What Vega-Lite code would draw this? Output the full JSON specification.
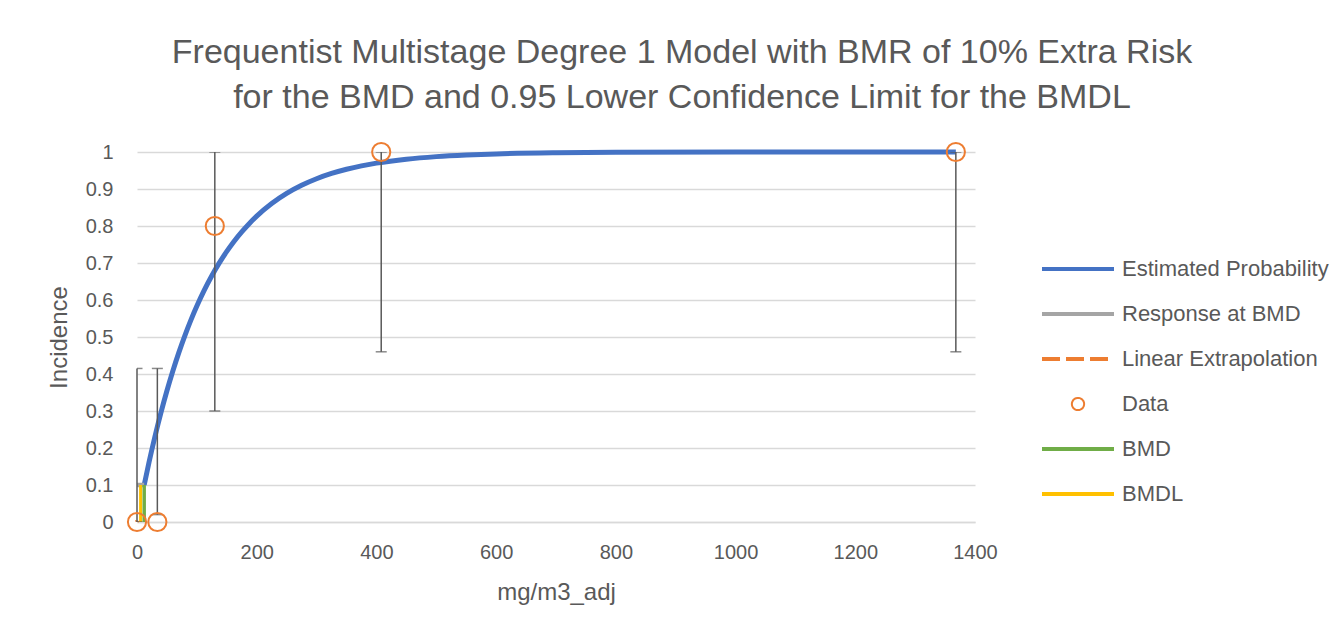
{
  "$schema": "https://vega.github.io/schema/vega-lite/v6.json",
  "width": 838,
  "height": 370,
  "autosize": {"type": "none"},
  "padding": {"left": 137, "top": 152, "right": 368, "bottom": 112},
  "background": "white",
  "config": {
    "font": "Liberation Sans",
    "view": {"stroke": null},
    "axis": {
      "labelColor": "#595959",
      "titleColor": "#595959",
      "labelFontSize": 20,
      "titleFontSize": 24,
      "titleFontWeight": "normal",
      "gridColor": "#d9d9d9",
      "gridWidth": 1.5,
      "ticks": false,
      "domain": false,
      "labelOverlap": false,
      "labelFlush": false
    }
  },
  "title": {
    "text": ["Frequentist Multistage Degree 1 Model with BMR of 10% Extra Risk", "for the BMD and 0.95 Lower Confidence Limit for the BMDL"],
    "fontSize": 34,
    "fontWeight": "normal",
    "color": "#595959",
    "anchor": "middle",
    "frame": "group",
    "dx": 126,
    "offset": 24,
    "lineHeight": 45
  },
  "datasets": {
    "lines": [
      {"series": "Estimated Probability", "x": 12, "y": 0.1},
      {"series": "Estimated Probability", "x": 20, "y": 0.1607},
      {"series": "Estimated Probability", "x": 30, "y": 0.2311},
      {"series": "Estimated Probability", "x": 40, "y": 0.2956},
      {"series": "Estimated Probability", "x": 50, "y": 0.3547},
      {"series": "Estimated Probability", "x": 60, "y": 0.4088},
      {"series": "Estimated Probability", "x": 70, "y": 0.4584},
      {"series": "Estimated Probability", "x": 80, "y": 0.5038},
      {"series": "Estimated Probability", "x": 90, "y": 0.5455},
      {"series": "Estimated Probability", "x": 100, "y": 0.5836},
      {"series": "Estimated Probability", "x": 112, "y": 0.6253},
      {"series": "Estimated Probability", "x": 125, "y": 0.6655},
      {"series": "Estimated Probability", "x": 137, "y": 0.6989},
      {"series": "Estimated Probability", "x": 150, "y": 0.7313},
      {"series": "Estimated Probability", "x": 162, "y": 0.7582},
      {"series": "Estimated Probability", "x": 175, "y": 0.7841},
      {"series": "Estimated Probability", "x": 187, "y": 0.8056},
      {"series": "Estimated Probability", "x": 200, "y": 0.8266},
      {"series": "Estimated Probability", "x": 225, "y": 0.8607},
      {"series": "Estimated Probability", "x": 250, "y": 0.8881},
      {"series": "Estimated Probability", "x": 275, "y": 0.9101},
      {"series": "Estimated Probability", "x": 300, "y": 0.9278},
      {"series": "Estimated Probability", "x": 325, "y": 0.9420},
      {"series": "Estimated Probability", "x": 350, "y": 0.9534},
      {"series": "Estimated Probability", "x": 375, "y": 0.9626},
      {"series": "Estimated Probability", "x": 400, "y": 0.9699},
      {"series": "Estimated Probability", "x": 450, "y": 0.9806},
      {"series": "Estimated Probability", "x": 500, "y": 0.9875},
      {"series": "Estimated Probability", "x": 550, "y": 0.9919},
      {"series": "Estimated Probability", "x": 600, "y": 0.9948},
      {"series": "Estimated Probability", "x": 700, "y": 0.9978},
      {"series": "Estimated Probability", "x": 800, "y": 0.9991},
      {"series": "Estimated Probability", "x": 1000, "y": 0.9998},
      {"series": "Estimated Probability", "x": 1200, "y": 1.0},
      {"series": "Estimated Probability", "x": 1368, "y": 1.0},
      {"series": "Response at BMD", "x": 0, "y": 0.1},
      {"series": "Response at BMD", "x": 12, "y": 0.1},
      {"series": "Linear Extrapolation", "x": 0, "y": 0},
      {"series": "Linear Extrapolation", "x": 0.5, "y": 0.004},
      {"series": "BMD", "x": 12, "y": 0},
      {"series": "BMD", "x": 12, "y": 0.1},
      {"series": "BMDL", "x": 6, "y": 0},
      {"series": "BMDL", "x": 6, "y": 0.1}
    ],
    "obs": [
      {"series": "Data", "dose": 0, "incidence": 0, "lo": 0, "hi": 0.415},
      {"series": "Data", "dose": 34, "incidence": 0, "lo": 0.02, "hi": 0.415},
      {"series": "Data", "dose": 130, "incidence": 0.8, "lo": 0.3, "hi": 1.0},
      {"series": "Data", "dose": 408, "incidence": 1.0, "lo": 0.46, "hi": 1.0},
      {"series": "Data", "dose": 1368, "incidence": 1.0, "lo": 0.46, "hi": 1.0}
    ]
  },
  "layer": [
    {
      "data": {"name": "lines"},
      "mark": {"type": "line", "strokeCap": "butt", "interpolate": "monotone"},
      "encoding": {
        "x": {"field": "x", "type": "quantitative", "scale": {"domain": [0, 1400], "nice": false}, "axis": {"values": [0, 200, 400, 600, 800, 1000, 1200, 1400], "format": "d", "grid": false, "title": "mg/m3_adj", "labelPadding": 20, "titlePadding": 18, "domain": true, "domainColor": "#d9d9d9", "domainWidth": 1.5}},
        "y": {"field": "y", "type": "quantitative", "scale": {"domain": [0, 1], "nice": false}, "axis": {"values": [0, 0.1, 0.2, 0.3, 0.4, 0.5, 0.6, 0.7, 0.8, 0.9, 1], "format": "~g", "title": "Incidence", "titlePadding": 14, "labelPadding": 24, "labelOverlap": false}},
        "detail": {"field": "series"},
        "color": {
          "field": "series",
          "type": "nominal",
          "scale": {
            "domain": ["Estimated Probability", "Response at BMD", "Linear Extrapolation", "Data", "BMD", "BMDL"],
            "range": ["#4472c4", "#a5a5a5", "#ed7d31", "#ed7d31", "#70ad47", "#ffc000"]
          },
          "legend": {
            "orient": "none",
            "legendX": 930,
            "legendY": 106,
            "title": null,
            "labelFontSize": 22,
            "labelColor": "#595959",
            "labelLimit": 400,
            "symbolType": "stroke",
            "symbolSize": 5184,
            "symbolStrokeWidth": 4,
            "labelOffset": 33,
            "rowPadding": 23,
            "encode": {
              "symbols": {
                "update": {
                  "shape": {"signal": "datum.value === 'Data' ? 'circle' : 'stroke'"},
                  "size": {"signal": "datum.value === 'Data' ? 150 : 5184"},
                  "strokeWidth": {"signal": "datum.value === 'Data' ? 2 : 4"},
                  "strokeDash": {"signal": "datum.value === 'Linear Extrapolation' ? [18, 6] : [1, 0]"},
                  "fill": {"value": "transparent"}
                }
              }
            }
          }
        },
        "strokeWidth": {
          "field": "series",
          "type": "nominal",
          "scale": {"domain": ["Estimated Probability", "Response at BMD", "Linear Extrapolation", "BMD", "BMDL"], "range": [5, 3, 3, 4, 6]},
          "legend": null
        },
        "order": {"field": "x", "type": "quantitative"}
      }
    },
    {
      "data": {"name": "obs"},
      "mark": {"type": "rule", "color": "#595959", "strokeWidth": 1.5},
      "encoding": {
        "x": {"field": "dose", "type": "quantitative", "axis": {"values": [0, 200, 400, 600, 800, 1000, 1200, 1400], "format": "d", "grid": false, "title": "mg/m3_adj", "labelPadding": 20, "titlePadding": 18, "domain": true, "domainColor": "#d9d9d9", "domainWidth": 1.5}},
        "y": {"field": "lo", "type": "quantitative", "axis": {"values": [0, 0.1, 0.2, 0.3, 0.4, 0.5, 0.6, 0.7, 0.8, 0.9, 1], "format": "~g", "title": "Incidence", "titlePadding": 14, "labelPadding": 24, "labelOverlap": false}},
        "y2": {"field": "hi"}
      }
    },
    {
      "data": {"name": "obs"},
      "mark": {"type": "tick", "orient": "horizontal", "color": "#595959", "size": 11, "thickness": 1.5, "clip": true},
      "encoding": {
        "x": {"field": "dose", "type": "quantitative", "axis": {"values": [0, 200, 400, 600, 800, 1000, 1200, 1400], "format": "d", "grid": false, "title": "mg/m3_adj", "labelPadding": 20, "titlePadding": 18, "domain": true, "domainColor": "#d9d9d9", "domainWidth": 1.5}},
        "y": {"field": "lo", "type": "quantitative", "axis": {"values": [0, 0.1, 0.2, 0.3, 0.4, 0.5, 0.6, 0.7, 0.8, 0.9, 1], "format": "~g", "title": "Incidence", "titlePadding": 14, "labelPadding": 24, "labelOverlap": false}}
      }
    },
    {
      "data": {"name": "obs"},
      "mark": {"type": "tick", "orient": "horizontal", "color": "#595959", "size": 11, "thickness": 1.5, "clip": true},
      "encoding": {
        "x": {"field": "dose", "type": "quantitative", "axis": {"values": [0, 200, 400, 600, 800, 1000, 1200, 1400], "format": "d", "grid": false, "title": "mg/m3_adj", "labelPadding": 20, "titlePadding": 18, "domain": true, "domainColor": "#d9d9d9", "domainWidth": 1.5}},
        "y": {"field": "hi", "type": "quantitative", "axis": {"values": [0, 0.1, 0.2, 0.3, 0.4, 0.5, 0.6, 0.7, 0.8, 0.9, 1], "format": "~g", "title": "Incidence", "titlePadding": 14, "labelPadding": 24, "labelOverlap": false}}
      }
    },
    {
      "data": {"name": "obs"},
      "mark": {"type": "point", "shape": "circle", "filled": false, "size": 330, "strokeWidth": 2, "opacity": 1},
      "encoding": {
        "x": {"field": "dose", "type": "quantitative", "axis": {"values": [0, 200, 400, 600, 800, 1000, 1200, 1400], "format": "d", "grid": false, "title": "mg/m3_adj", "labelPadding": 20, "titlePadding": 18, "domain": true, "domainColor": "#d9d9d9", "domainWidth": 1.5}},
        "y": {"field": "incidence", "type": "quantitative", "axis": {"values": [0, 0.1, 0.2, 0.3, 0.4, 0.5, 0.6, 0.7, 0.8, 0.9, 1], "format": "~g", "title": "Incidence", "titlePadding": 14, "labelPadding": 24, "labelOverlap": false}},
        "color": {"field": "series", "type": "nominal"}
      }
    }
  ]
}
